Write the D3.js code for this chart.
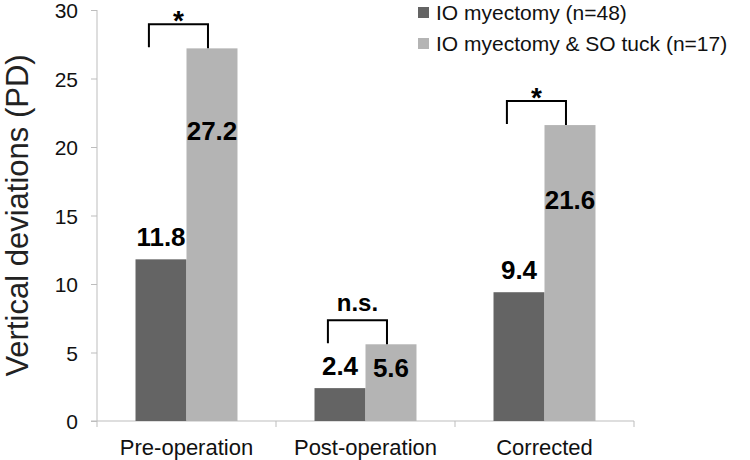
<html>
<head>
<style>
  body { margin: 0; background: #fff; }
  svg { font-family: "Liberation Sans", Arial, sans-serif; }
</style>
</head>
<body>
<div id="chart"></div>
<script src="https://cdn.jsdelivr.net/npm/d3@7"></script>
<script>
var width = 750, height = 460;

// data
var categories = ["Pre-operation", "Post-operation", "Corrected"];
var seriesNames = ["IO myectomy (n=48)", "IO myectomy & SO tuck (n=17)"];
var ioMyectomy = [11.8, 2.4, 9.4];
var ioTuck = [27.2, 5.6, 21.6];
// where the labels of the second series sit (in PD units)
var tuckLabelAt = [20.5, 3.2, 15.5];
var significance = ["*", "n.s.", "*"];
var yTicks = [0, 5, 10, 15, 20, 25, 30];

var colors = ["#646464", "#b4b4b4"];
var axisColor = "#bdbdbd";

var svg = d3.select("#chart").append("svg")
  .attr("width", width).attr("height", height);

var x = d3.scaleBand().domain(categories).range([97, 634]);
var xs = d3.scaleBand().domain([0, 1]).range([0, x.bandwidth()])
  .paddingInner(0).paddingOuter(0.755);
var y = d3.scaleLinear().domain([0, 30]).range([421, 10]);

// y axis
var yAxis = svg.append("g").attr("transform", "translate(97,0)")
  .call(d3.axisLeft(y).tickValues(yTicks).tickSize(6).tickPadding(13));
yAxis.selectAll("path, line").attr("stroke", axisColor);
yAxis.select(".domain").attr("d", "M0," + y(0) + "V" + y(30));
yAxis.selectAll("text").attr("font-size", 21).attr("fill", "#111")
  .attr("dy", "0.36em")
  .attr("font-family", "Liberation Sans, Arial, sans-serif");

// x axis
var xAxisG = svg.append("g");
xAxisG.append("line")
  .attr("x1", 91).attr("x2", x.range()[1])
  .attr("y1", y(0)).attr("y2", y(0))
  .attr("stroke", axisColor);
var bounds = categories.map(c => x(c)).concat([x.range()[1]]);
xAxisG.selectAll(".tk").data(bounds).join("line")
  .attr("x1", d => d).attr("x2", d => d)
  .attr("y1", y(0)).attr("y2", y(0) + 6)
  .attr("stroke", axisColor);
xAxisG.selectAll(".lbl").data(categories).join("text")
  .attr("x", d => x(d) + x.bandwidth() / 2)
  .attr("y", 455)
  .attr("text-anchor", "middle")
  .attr("font-size", 22)
  .attr("fill", "#111")
  .text(d => d);

// y title
svg.append("text")
  .attr("transform", "translate(28," + (y(0) + y(30)) / 2 + ") rotate(-90)")
  .attr("text-anchor", "middle")
  .attr("font-size", 31)
  .attr("fill", "#222")
  .text("Vertical deviations (PD)");

// bars
var series = [ioMyectomy, ioTuck];
series.forEach(function(vals, si) {
  svg.append("g").selectAll("rect").data(categories).join("rect")
    .attr("x", (c) => x(c) + xs(si))
    .attr("y", (c, i) => y(vals[i]))
    .attr("width", xs.bandwidth())
    .attr("height", (c, i) => y(0) - y(vals[i]))
    .attr("fill", colors[si]);
});

// value labels
svg.append("g").selectAll("text").data(categories).join("text")
  .attr("x", c => x(c) + xs(0) + xs.bandwidth() / 2)
  .attr("y", (c, i) => y(ioMyectomy[i]) - 13)
  .attr("text-anchor", "middle")
  .attr("font-size", 26).attr("font-weight", "bold")
  .text((c, i) => ioMyectomy[i].toFixed(1));
svg.append("g").selectAll("text").data(categories).join("text")
  .attr("x", c => x(c) + xs(1) + xs.bandwidth() / 2)
  .attr("y", (c, i) => y(tuckLabelAt[i]))
  .attr("text-anchor", "middle")
  .attr("font-size", 26).attr("font-weight", "bold")
  .text((c, i) => ioTuck[i].toFixed(1));

// significance brackets
var br = svg.append("g").selectAll("g").data(categories).join("g");
br.append("path")
  .attr("fill", "none").attr("stroke", "#000").attr("stroke-width", 2)
  .attr("d", function(c, i) {
    var top = y(ioTuck[i]);
    var x1 = x(c) + 0.29 * x.bandwidth(), x2 = x(c) + 0.62 * x.bandwidth();
    return "M" + x1 + "," + (top - 1) + "V" + (top - 24) + "H" + x2 + "V" + top;
  });
br.append("text")
  .attr("x", c => x(c) + 0.455 * x.bandwidth())
  .attr("y", (c, i) => significance[i] === "*" ? y(ioTuck[i]) - 18 : y(ioTuck[i]) - 33)
  .attr("text-anchor", "middle")
  .attr("font-weight", "bold")
  .attr("font-size", (c, i) => significance[i] === "*" ? 28 : 24)
  .text((c, i) => significance[i]);

// legend
var lg = svg.append("g").selectAll("g").data(seriesNames).join("g")
  .attr("transform", (d, i) => "translate(418," + (i * 31 + 7) + ")");
lg.append("rect").attr("width", 11).attr("height", 11)
  .attr("fill", (d, i) => colors[i]);
lg.append("text").attr("x", 18).attr("y", 12.5)
  .attr("font-size", 21).attr("fill", "#111")
  .text(d => d);
</script>
</body>
</html>
